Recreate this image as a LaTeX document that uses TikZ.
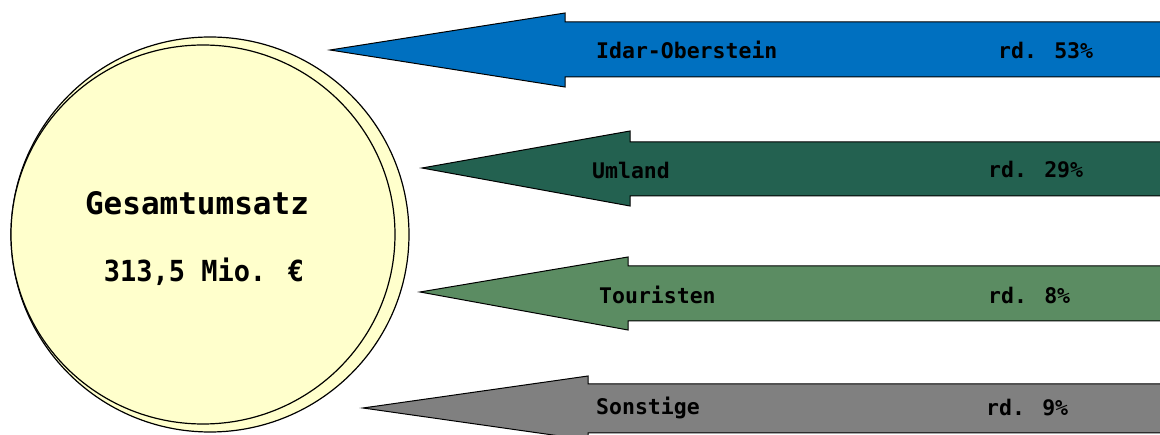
\documentclass[tikz,border=0pt]{standalone}
\usepackage{fontspec}
\newfontfamily\labfont{DejaVu Sans Mono Bold}
\newfontfamily\circfont{DejaVu Sans Mono Bold}
\newfontfamily\circfontn[FakeStretch=0.93]{DejaVu Sans Mono Bold}
\definecolor{cblue}{HTML}{0070C0}
\definecolor{cdgreen}{HTML}{236150}
\definecolor{cmgreen}{HTML}{5B8C62}
\definecolor{cgrey}{HTML}{808080}
\definecolor{cyel}{HTML}{FFFFCC}
\newcommand{\leftarrowshape}[8]{%
  \filldraw[arrowbody, fill=#1] (#2,#3) -- (#4,#5) -- (#4,#6) -- (1170,#6) -- (1170,#7) -- (#4,#7) -- (#4,#8) -- cycle;}
\begin{document}
\begin{tikzpicture}[x=1pt,y=-1pt,
  arrowbody/.style={draw=black, line width=1pt, line join=miter},
  disc/.style={draw=black, line width=1.2pt, fill=cyel},
  lab/.style={anchor=west, inner sep=0pt, font=\labfont\fontsize{21.5}{21.5}\selectfont},
  circtext/.style={anchor=center, inner sep=0pt}]
\useasboundingbox (0,0) rectangle (1160,435);
\clip (0,0) rectangle (1160,435);
% circles
\draw[disc] (210,234.5) ellipse [x radius=199, y radius=197.5];
\draw[disc] (203,234.5) ellipse [x radius=192, y radius=189.5];
\node[circtext, font=\circfont\fontsize{31}{31}\selectfont] (title) at (197,203) {Gesamtumsatz};
\node[circtext, font=\circfontn\fontsize{29}{29}\selectfont] (total) at (204,272) {313,5 Mio. €};
% arrows
\leftarrowshape{cblue}{330}{50}{565}{13}{22}{77}{87}
\leftarrowshape{cdgreen}{422}{168}{630}{131}{142}{196}{206}
\leftarrowshape{cmgreen}{420}{292}{628}{257}{266}{321}{330}
\leftarrowshape{cgrey}{363}{408}{588}{376}{384}{433}{440}
% labels
\node[lab] (l1) at (596,50) {Idar-Oberstein};
\node[lab] (p1) at (998,50) {rd. 53\%};
\node[lab] (l2) at (592,170) {Umland};
\node[lab] (p2) at (988,170) {rd. 29\%};
\node[lab] (l3) at (599,295) {Touristen};
\node[lab] (p3) at (988,295) {rd. 8\%};
\node[lab] (l4) at (596,408) {Sonstige};
\node[lab] (p4) at (986,408) {rd. 9\%};
\end{tikzpicture}
\end{document}
